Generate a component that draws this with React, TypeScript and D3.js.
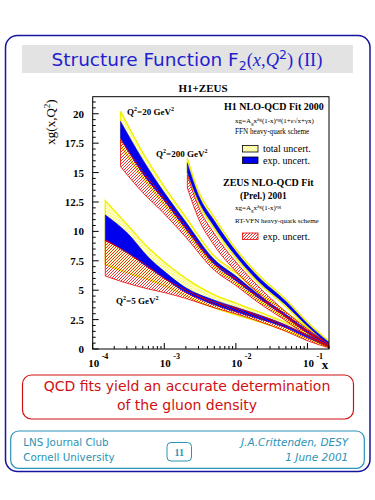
import React from "react";
import * as d3 from "d3";

const W = 375;
const H = 500;

// Q^2 = 5 GeV^2
const q5X = [1.5e-4, 3e-4, 6e-4, 1e-3, 2e-3, 5e-3, 1e-2, 2e-2, 5e-2, 0.1, 0.2];
const q5TotLo = [7.2, 6.5, 5.9, 5.4, 4.5, 3.5, 2.9, 2.35, 1.55, 0.85, 0.12];
const q5TotHi = [12.6, 10.6, 8.6, 7.4, 6.0, 4.6, 3.9, 3.2, 2.25, 1.35, 0.45];
const q5ExpLo = [9.2, 8.2, 6.9, 6.0, 4.8, 3.75, 3.15, 2.6, 1.8, 0.95, 0.2];
const q5ExpHi = [11.4, 9.9, 7.8, 6.6, 5.2, 4.15, 3.55, 2.95, 2.05, 1.2, 0.38];
const q5ZeusLo = [6.2, 5.6, 5.1, 4.8, 4.3, 3.5, 3.0, 2.4, 1.5, 0.7, 0.1];
const q5ZeusHi = [9.3, 8.2, 7.0, 6.0, 5.0, 4.0, 3.5, 2.9, 2.0, 1.1, 0.33];

// Q^2 = 20 GeV^2
const q20X = [2.45e-4, 5e-4, 1e-3, 2e-3, 5e-3, 1e-2, 2e-2, 5e-2, 0.1, 0.2];
const q20TotLo = [17.3, 14.6, 12.3, 10.0, 7.0, 5.6, 4.2, 2.55, 1.2, 0.2];
const q20TotHi = [20.2, 16.7, 13.8, 11.2, 7.9, 6.5, 4.9, 3.15, 1.8, 0.6];
const q20ExpLo = [17.9, 14.9, 12.6, 10.2, 7.2, 5.8, 4.4, 2.7, 1.35, 0.3];
const q20ExpHi = [19.35, 16.1, 13.3, 10.8, 7.6, 6.2, 4.7, 2.95, 1.6, 0.5];
const q20ZeusLo = [15.5, 13.3, 11.5, 9.5, 6.7, 5.4, 4.0, 2.4, 1.1, 0.15];
const q20ZeusHi = [17.8, 15.1, 12.8, 10.4, 7.3, 6.0, 4.5, 2.8, 1.5, 0.4];

// Q^2 = 200 GeV^2
const q200X = [2.1e-3, 3e-3, 5e-3, 1e-2, 2e-2, 5e-2, 0.1, 0.2];
const q200TotLo = [14.9, 12.4, 10.2, 7.7, 5.7, 3.6, 1.85, 0.3];
const q200TotHi = [16.2, 13.4, 11.2, 8.5, 6.4, 4.2, 2.3, 0.65];
const q200ExpLo = [15.0, 12.6, 10.4, 7.9, 5.85, 3.75, 1.95, 0.35];
const q200ExpHi = [15.8, 13.1, 10.9, 8.3, 6.2, 4.05, 2.15, 0.55];
const q200ZeusLo = [13.7, 11.1, 8.8, 6.6, 4.8, 2.7, 1.35, 0.2];
const q200ZeusHi = [14.8, 12.1, 9.8, 7.4, 5.4, 3.15, 1.7, 0.4];

const yTickValues = [0, 2.5, 5, 7.5, 10, 12.5, 15, 17.5, 20];
const yTickLabels = ["0", "2.5", "5", "7.5", "10", "12.5", "15", "17.5", "20"];
const xDecades = [1e-4, 1e-3, 1e-2, 1e-1];
const xDecadeExps = ["-4", "-3", "-2", "-1"];

type Band = { x: number[]; lo: number[]; hi: number[] };

const yellowBands: Band[] = [
  { x: q5X, lo: q5TotLo, hi: q5TotHi },
  { x: q20X, lo: q20TotLo, hi: q20TotHi },
  { x: q200X, lo: q200TotLo, hi: q200TotHi },
];
const blueBands: Band[] = [
  { x: q5X, lo: q5ExpLo, hi: q5ExpHi },
  { x: q20X, lo: q20ExpLo, hi: q20ExpHi },
  { x: q200X, lo: q200ExpLo, hi: q200ExpHi },
];
const redBands: Band[] = [
  { x: q5X, lo: q5ZeusLo, hi: q5ZeusHi },
  { x: q20X, lo: q20ZeusLo, hi: q20ZeusHi },
  { x: q200X, lo: q200ZeusLo, hi: q200ZeusHi },
];

const PL = 92.7;
const PR = 329;
const PT = 96.7;
const PB = 349;

const xScale = d3.scaleLog().domain([1e-4, 0.2]).range([PL, PR]);
const yScale = d3.scaleLinear().domain([0, 21.45]).range([PB, PT]);

function bandPath(b: Band): string {
  const pts = b.x.map((xv, i) => ({ x: xv, lo: b.lo[i], hi: b.hi[i] }));
  const area = d3
    .area<{ x: number; lo: number; hi: number }>()
    .x((d) => xScale(d.x))
    .y0((d) => yScale(d.lo))
    .y1((d) => yScale(d.hi))
    .curve(d3.curveMonotoneX);
  return area(pts) || "";
}

const serif = "'Liberation Serif', 'DejaVu Serif', serif";
const sans = "'DejaVu Sans', Verdana, sans-serif";

export default function App() {
  const minorY = d3.range(0, 21.01, 0.5).filter((v) => Math.abs(v / 2.5 - Math.round(v / 2.5)) > 1e-6);
  const minorX: number[] = [];
  for (let e = -4; e <= -1; e++) {
    for (let k = 2; k <= 9; k++) {
      const v = k * Math.pow(10, e);
      if (v <= 0.2 + 1e-9) minorX.push(v);
    }
  }
  const teal = "#2a93b5";
  return (
    <div style={{ position: "fixed", left: 0, top: 0, width: W, height: H, background: "#fff" }}>
      <svg width={W} height={H} viewBox={`0 0 ${W} ${H}`} style={{ display: "block" }}>
        <defs>
          <pattern id="redHatch" patternUnits="userSpaceOnUse" width={3} height={3}>
            <path d="M-1,1 L1,-1 M0,3 L3,0 M2,4 L4,2" stroke="#e80000" strokeWidth={0.8} />
          </pattern>
          <pattern id="yellowHatch" patternUnits="userSpaceOnUse" width={3} height={3}>
            <rect width={3} height={3} fill="#ffffd0" />
            <path d="M-1,1 L1,-1 M0,3 L3,0 M2,4 L4,2" stroke="#f6f640" strokeWidth={0.7} />
          </pattern>
          <clipPath id="plotClip">
            <rect x={PL} y={PT} width={PR - PL} height={PB - PT} />
          </clipPath>
        </defs>

        {/* outer frame */}
        <rect x={5.5} y={35.5} width={364.5} height={436} rx={12} fill="none" stroke="#1414a0" strokeWidth={1.5} />

        {/* title */}
        <rect x={22} y={45} width={331} height={28} fill="#e3e3e3" />
        <text x={187} y={65.5} textAnchor="middle" fill="#1f1fd0" fontFamily={sans} fontSize={18.5}>
          Structure Function F
          <tspan fontSize={12.5} dy={4}>2</tspan>
          <tspan dy={-4} fontFamily={serif}>(</tspan>
          <tspan fontFamily={serif} fontStyle="italic">x</tspan>
          <tspan fontFamily={serif}>,</tspan>
          <tspan fontFamily={serif} fontStyle="italic">Q</tspan>
          <tspan fontSize={12.5} dy={-7}>2</tspan>
          <tspan dy={7} fontFamily={serif}>) (II)</tspan>
        </text>

        {/* plot header */}
        <text x={203} y={92} textAnchor="middle" fontFamily={serif} fontWeight="bold" fontSize={11}>
          H1+ZEUS
        </text>

        {/* bands */}
        <g clipPath="url(#plotClip)">
          {yellowBands.map((b, i) => (
            <path key={"y" + i} d={bandPath(b)} fill="url(#yellowHatch)" stroke="#f0f000" strokeWidth={1.4} />
          ))}
          {blueBands.map((b, i) => (
            <path key={"b" + i} d={bandPath(b)} fill="#0000ee" stroke="#0000ee" strokeWidth={0.6} />
          ))}
          {redBands.map((b, i) => (
            <path key={"r" + i} d={bandPath(b)} fill="url(#redHatch)" stroke="#e80000" strokeWidth={0.8} />
          ))}
        </g>

        {/* frame */}
        <rect x={PL} y={PT} width={PR - PL} height={PB - PT} fill="none" stroke="#000" strokeWidth={1} />

        {/* y ticks */}
        {yTickValues.map((v, i) => (
          <g key={"yt" + i}>
            <line x1={PL} x2={PL + 6} y1={yScale(v)} y2={yScale(v)} stroke="#000" />
            <text x={84} y={yScale(v) + 4} textAnchor="end" fontFamily={serif} fontWeight="bold" fontSize={11}>
              {yTickLabels[i]}
            </text>
          </g>
        ))}
        {minorY.map((v, i) => (
          <line key={"ym" + i} x1={PL} x2={PL + 3} y1={yScale(v)} y2={yScale(v)} stroke="#000" />
        ))}

        {/* x ticks */}
        {xDecades.map((v, i) => (
          <g key={"xt" + i}>
            <line x1={xScale(v)} x2={xScale(v)} y1={PB} y2={PB - 6} stroke="#000" />
            <text x={xScale(v) + 1} y={367} textAnchor="middle" fontFamily={serif} fontWeight="bold" fontSize={11}>
              10
            </text>
            <text x={xScale(v) + 9} y={359} fontFamily={serif} fontWeight="bold" fontSize={8}>
              {xDecadeExps[i]}
            </text>
          </g>
        ))}
        {minorX.map((v, i) => (
          <line key={"xm" + i} x1={xScale(v)} x2={xScale(v)} y1={PB} y2={PB - 3} stroke="#000" />
        ))}
        <text x={325} y={369} textAnchor="middle" fontFamily={serif} fontWeight="bold" fontSize={13}>
          x
        </text>

        {/* y label */}
        <text transform="translate(55,122) rotate(-90)" textAnchor="middle" fontFamily={serif} fontSize={13}>
          xg(x,Q<tspan fontSize={9} dy={-5}>2</tspan>
          <tspan dy={5}>)</tspan>
        </text>

        {/* curve labels */}
        <text x={127} y={115} fontFamily={serif} fontWeight="bold" fontSize={9}>
          Q<tspan fontSize={6} dy={-4}>2</tspan>
          <tspan dy={4}>=20 GeV</tspan>
          <tspan fontSize={6} dy={-4}>2</tspan>
        </text>
        <text x={156} y={157} fontFamily={serif} fontWeight="bold" fontSize={9}>
          Q<tspan fontSize={6} dy={-4}>2</tspan>
          <tspan dy={4}>=200 GeV</tspan>
          <tspan fontSize={6} dy={-4}>2</tspan>
        </text>
        <text x={116} y={304} fontFamily={serif} fontWeight="bold" fontSize={9}>
          Q<tspan fontSize={6} dy={-4}>2</tspan>
          <tspan dy={4}>=5 GeV</tspan>
          <tspan fontSize={6} dy={-4}>2</tspan>
        </text>

        {/* legend */}
        <g fontFamily={serif}>
          <text x={224} y={110} fontWeight="bold" fontSize={10}>H1 NLO-QCD Fit 2000</text>
          <text x={235} y={123} fontSize={7}>
            xg=A<tspan fontSize={5} dy={1.5}>g</tspan>
            <tspan dy={-1.5}>x</tspan>
            <tspan fontSize={5} dy={-2.5}>δg</tspan>
            <tspan dy={2.5}>(1-x)</tspan>
            <tspan fontSize={5} dy={-2.5}>ηg</tspan>
            <tspan dy={2.5}>(1+ε√x+γx)</tspan>
          </text>
          <text x={235} y={134} fontSize={7.2}>FFN heavy-quark scheme</text>
          <rect x={242.5} y={145.5} width={15.5} height={6.5} fill="url(#yellowHatch)" stroke="#000" strokeWidth={0.8} />
          <text x={263} y={152} fontSize={10}>total uncert.</text>
          <rect x={242.5} y={157} width={15.5} height={6.5} fill="#0000ee" stroke="#000" strokeWidth={0.8} />
          <text x={263} y={163.5} fontSize={10}>exp. uncert.</text>

          <text x={223} y={186} fontWeight="bold" fontSize={10}>ZEUS NLO-QCD Fit</text>
          <text x={240} y={199} fontWeight="bold" fontSize={9.5}>(Prel.) 2001</text>
          <text x={235} y={210} fontSize={7}>
            xg=A<tspan fontSize={5} dy={1.5}>g</tspan>
            <tspan dy={-1.5}>x</tspan>
            <tspan fontSize={5} dy={-2.5}>δg</tspan>
            <tspan dy={2.5}>(1-x)</tspan>
            <tspan fontSize={5} dy={-2.5}>ηg</tspan>
          </text>
          <text x={235} y={222.5} fontSize={7}>RT-VFN heavy-quark scheme</text>
          <rect x={242.5} y={233} width={15.5} height={6.5} fill="url(#redHatch)" stroke="#e80000" strokeWidth={0.8} />
          <text x={263} y={240} fontSize={10}>exp. uncert.</text>
        </g>

        {/* conclusion box */}
        <rect x={22.5} y={375} width={331} height={44} rx={9} fill="none" stroke="#d01010" strokeWidth={1.2} />
        <text x={187} y={390.5} textAnchor="middle" fill="#d01010" fontFamily={sans} fontSize={14}>
          QCD fits yield an accurate determination
        </text>
        <text x={187} y={410} textAnchor="middle" fill="#d01010" fontFamily={sans} fontSize={14}>
          of the gluon density
        </text>

        {/* footer */}
        <rect x={10.7} y={431} width={353.6} height={37.3} rx={8} fill="none" stroke={teal} strokeWidth={1.2} />
        <text x={23.3} y={446} fill={teal} fontFamily={sans} fontSize={10.3}>LNS Journal Club</text>
        <text x={23.3} y={461} fill={teal} fontFamily={sans} fontSize={10.3}>Cornell University</text>
        <text x={348.3} y={446} textAnchor="end" fill={teal} fontFamily={sans} fontStyle="italic" fontSize={10.5}>
          J.A.Crittenden, DESY
        </text>
        <text x={348.3} y={461} textAnchor="end" fill={teal} fontFamily={sans} fontStyle="italic" fontSize={10.5}>
          1 June 2001
        </text>
        <rect x={167} y={442.5} width={24.5} height={18.5} rx={4} fill="none" stroke={teal} strokeWidth={1} />
        <text x={179.2} y={456} textAnchor="middle" fill={teal} fontFamily={serif} fontWeight="bold" fontSize={10}>
          11
        </text>
      </svg>
    </div>
  );
}
